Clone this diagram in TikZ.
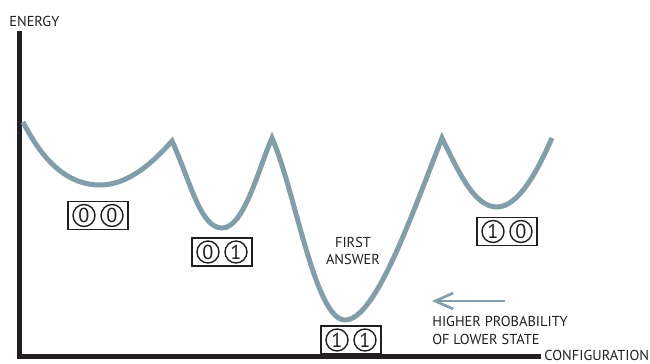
\documentclass[tikz,border=0pt]{standalone}
\usepackage{fontspec}
\setmainfont{PT Sans}
\usepackage{xcolor}
\usepackage{tikz}
\usetikzlibrary{arrows.meta, positioning}

\definecolor{wellblue}{HTML}{829EAA}
\definecolor{inkgray}{HTML}{231F20}

\begin{document}
\begin{tikzpicture}[x=0.02cm, y=-0.02cm, text=inkgray,
        font=\fontsize{8.2}{10.2}\selectfont,
        axis/.style={draw=inkgray, line width=0.1cm},
        landscape/.style={draw=wellblue, line width=0.1cm, line join=miter},
        statebox/.style={draw=inkgray, line width=1.1pt, minimum width=1.2cm, minimum height=0.56cm, inner sep=0pt},
        bit/.style={draw=inkgray, circle, line width=0.8pt, minimum size=0.44cm, inner sep=0pt, font=\fontsize{11.5}{12}\selectfont},
        probarrow/.style={draw=wellblue, line width=1.5pt, -{Straight Barb[length=3.6mm, width=3.2mm]}}]
        \useasboundingbox (0,0) rectangle (650,364);

        % axes
        \coordinate (origin) at (19.5,357);
        \coordinate (ytop)   at (19.5,31);
        \coordinate (xend)   at (541,357);
        \draw[axis] (ytop) -- (origin) -- (xend);
        \node[anchor=base west, inner sep=0pt] (energy) at (9,27) {ENERGY};
        \node[anchor=base east, inner sep=0pt] (config) at (649.5,361) {CONFIGURATION};

        % energy landscape
        \draw[landscape] (23,122)
            .. controls (45,165) and (70,185) .. (100,185)
            .. controls (130,185) and (155,160) .. (172,141)
            .. controls (190,180) and (200,228) .. (222,228)
            .. controls (244,228) and (258,170) .. (272,138)
            .. controls (295,190) and (315,320) .. (345,320)
            .. controls (375,320) and (410,220) .. (442,138)
            .. controls (460,175) and (475,207) .. (497,207)
            .. controls (520,207) and (540,165) .. (552,138);

        % states
        \foreach \name/\px/\py/\a/\b in {s00/98/215.5/0/0, s01/222/252/0/1, s11/351/340/1/1, s10/507/231.5/1/0} {
            \node[statebox] (\name) at (\px,\py) {};
            \node[bit] (\name a) at (\px-14,\py) {\a};
            \node[bit] (\name b) at (\px+14,\py) {\b};
        }

        \node[align=center, inner sep=0pt] (first) at (353,251) {FIRST\\ANSWER};

        % probability arrow
        \coordinate (arrowtail) at (505,301);
        \coordinate (arrowtip)  at (432,301);
        \draw[probarrow] (arrowtail) -- (arrowtip);
        \node[align=left, anchor=north west, inner sep=0pt] (higher) at (432,316) {HIGHER PROBABILITY\\OF LOWER STATE};
\end{tikzpicture}
\end{document}
